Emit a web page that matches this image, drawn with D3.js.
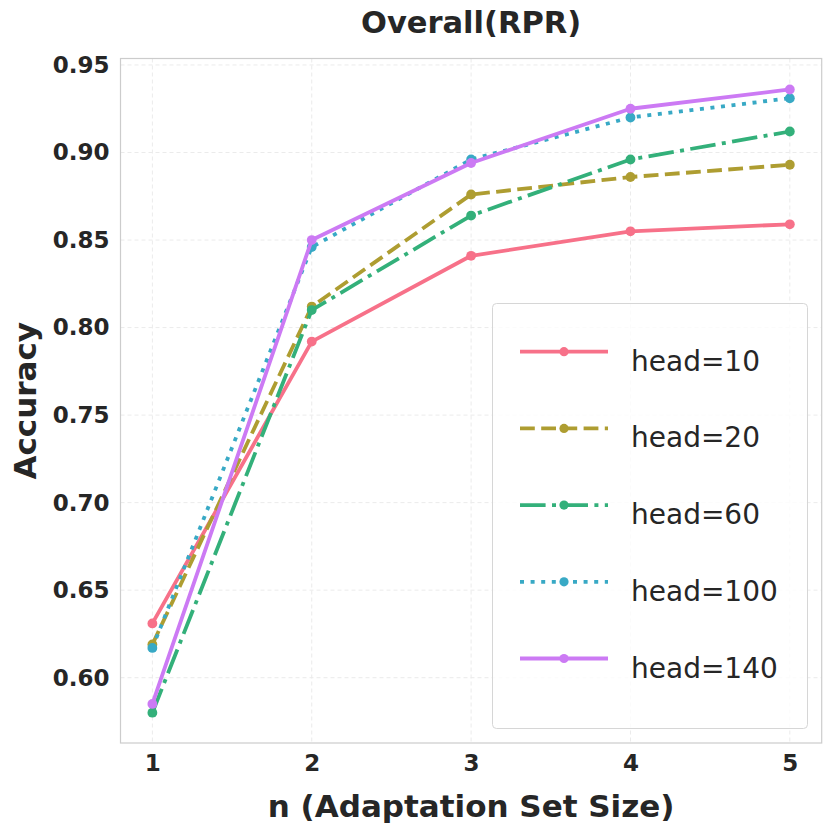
<!DOCTYPE html>
<html lang="en">
<head>
<meta charset="utf-8">
<title>Overall(RPR)</title>
<script src="https://cdnjs.cloudflare.com/ajax/libs/d3/7.8.5/d3.min.js"></script>
<style>
  body { margin: 0; background: #fff; }
  text { font-family: "DejaVu Sans", sans-serif; fill: #262626; }
</style>
</head>
<body>
<div id="chart"></div>
<script>
// data
const nValues = [1, 2, 3, 4, 5];
const seriesNames = ["head=10", "head=20", "head=60", "head=100", "head=140"];
const head10 = [0.631, 0.792, 0.841, 0.855, 0.859];
const head20 = [0.619, 0.812, 0.876, 0.886, 0.893];
const head60 = [0.580, 0.810, 0.864, 0.896, 0.912];
const head100 = [0.617, 0.846, 0.896, 0.920, 0.931];
const head140 = [0.585, 0.850, 0.894, 0.925, 0.936];
const yTicks = [0.60, 0.65, 0.70, 0.75, 0.80, 0.85, 0.90, 0.95];

const colors = ["#f77189", "#ae9d31", "#33b07a", "#38a9c5", "#cc7af4"];
const dashes = [null, "14.8,6.4", "25.6,6.4,4,6.4", "4,6.6", null];

const W = 831, H = 830;
const pLeft = 120.5, pRight = 821.7, pTop = 58.5, pBottom = 743;

const x = d3.scaleLinear().domain([0.8, 5.2]).range([pLeft, pRight]);
const y = d3.scaleLinear().domain([0.5627, 0.9537]).range([pBottom, pTop]);

const svg = d3.select("#chart").append("svg")
  .attr("width", W).attr("height", H);

// grid
svg.append("g").selectAll("line").data(yTicks).enter().append("line")
  .attr("x1", pLeft).attr("x2", pRight)
  .attr("y1", d => y(d)).attr("y2", d => y(d))
  .attr("stroke", "#ebebeb").attr("stroke-width", 1).attr("stroke-dasharray", "4,3");
svg.append("g").selectAll("line").data(nValues).enter().append("line")
  .attr("y1", pTop).attr("y2", pBottom)
  .attr("x1", d => x(d)).attr("x2", d => x(d))
  .attr("stroke", "#ebebeb").attr("stroke-width", 1).attr("stroke-dasharray", "4,3");

// axes (ticks only as labels)
const yAxis = d3.axisLeft(y).tickValues(yTicks).tickFormat(d3.format(".2f")).tickSize(0).tickPadding(11);
const gy = svg.append("g").attr("transform", `translate(${pLeft},0)`).call(yAxis);
gy.select(".domain").remove();
gy.selectAll("text").attr("font-size", 23).attr("font-weight", "bold")
  .attr("font-family", "DejaVu Sans").attr("fill", "#262626");

const xAxis = d3.axisBottom(x).tickValues(nValues).tickFormat(d3.format("d")).tickSize(0).tickPadding(12);
const gx = svg.append("g").attr("transform", `translate(0,${pBottom})`).call(xAxis);
gx.select(".domain").remove();
gx.selectAll("text").attr("font-size", 23).attr("font-weight", "bold")
  .attr("font-family", "DejaVu Sans").attr("fill", "#262626");

// frame
svg.append("rect").attr("x", pLeft).attr("y", pTop)
  .attr("width", pRight - pLeft).attr("height", pBottom - pTop)
  .attr("fill", "none").attr("stroke", "#cccccc").attr("stroke-width", 1.2);

// lines
const allSeries = [head10, head20, head60, head100, head140];
const line = d3.line().x((d, i) => x(nValues[i])).y(d => y(d));

allSeries.forEach((vals, s) => {
  const g = svg.append("g");
  g.append("path").datum(vals)
    .attr("d", line)
    .attr("fill", "none")
    .attr("stroke", colors[s])
    .attr("stroke-width", 3.8)
    .attr("stroke-dasharray", dashes[s])
    .attr("stroke-linejoin", "round");
  g.selectAll("circle").data(vals).enter().append("circle")
    .attr("cx", (d, i) => x(nValues[i]))
    .attr("cy", d => y(d))
    .attr("r", 4.9)
    .attr("fill", colors[s]);
});

// legend
const lg = svg.append("g");
lg.append("rect").attr("x", 492.5).attr("y", 303.5)
  .attr("width", 315).attr("height", 425).attr("rx", 4)
  .attr("fill", "#fff").attr("fill-opacity", 0.8)
  .attr("stroke", "#d6d6d6").attr("stroke-width", 1);

seriesNames.forEach((name, s) => {
  const cy = 351.7 + s * 76.7;
  lg.append("line").attr("x1", 520).attr("x2", 608)
    .attr("y1", cy).attr("y2", cy)
    .attr("stroke", colors[s]).attr("stroke-width", 3.8)
    .attr("stroke-dasharray", dashes[s]);
  lg.append("circle").attr("cx", 564).attr("cy", cy).attr("r", 4.6).attr("fill", colors[s]);
  lg.append("text").attr("x", 631).attr("y", cy + 19)
    .attr("font-size", 28).text(name);
});

// titles
svg.append("text").attr("x", (pLeft + pRight) / 2).attr("y", 33)
  .attr("text-anchor", "middle").attr("font-size", 30.5).attr("font-weight", "bold")
  .text("Overall(RPR)");
svg.append("text").attr("x", (pLeft + pRight) / 2).attr("y", 817)
  .attr("text-anchor", "middle").attr("font-size", 31).attr("font-weight", "bold")
  .text("n (Adaptation Set Size)");
svg.append("text").attr("transform", `translate(36,${(pTop + pBottom) / 2}) rotate(-90)`)
  .attr("text-anchor", "middle").attr("font-size", 31).attr("font-weight", "bold")
  .text("Accuracy");
</script>
</body>
</html>
